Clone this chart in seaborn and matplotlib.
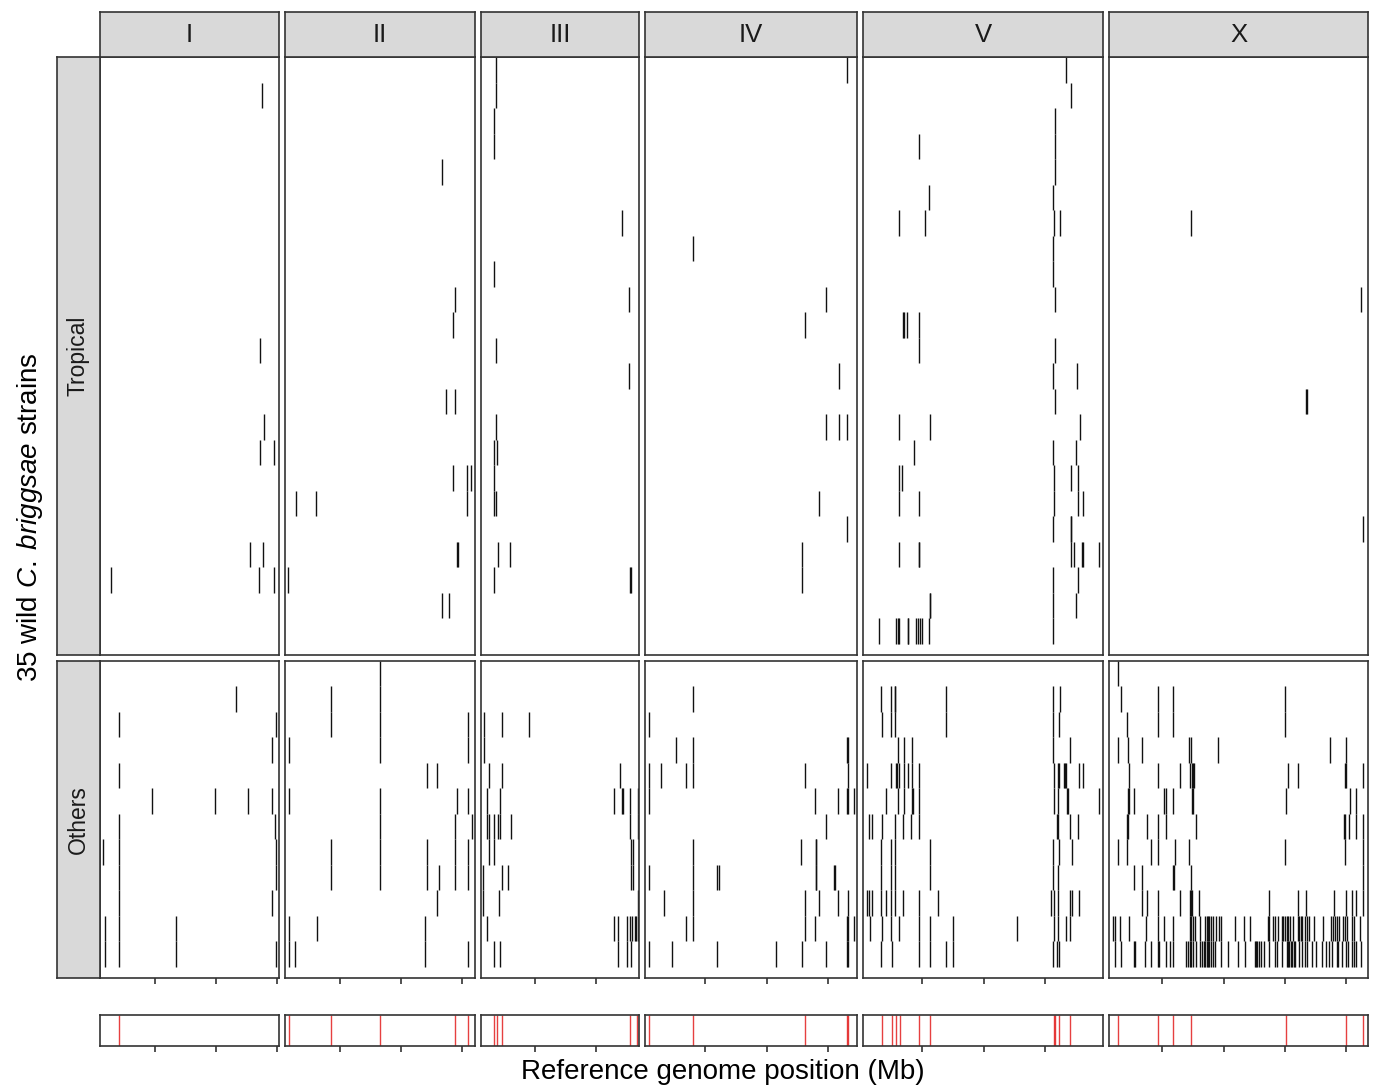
import numpy as np
import pandas as pd
import matplotlib
matplotlib.use("Agg")
import matplotlib.pyplot as plt
import seaborn as sns

# ---------------- data ----------------
chromosomes = ["I", "II", "III", "IV", "V", "X"]
groups = ["Tropical", "Others"]
n_strains = {"Tropical": 23, "Others": 12}
# displayed genome range per chromosome (Mb)
xlims = {"I": (0.53, 15.14), "II": (0.53, 16.04), "III": (0.57, 13.47),
         "IV": (0.08, 17.39), "V": (0.16, 19.76), "X": (0.65, 21.80)}
tick_mb = [5, 10, 15, 20]

# (strain row, [positions in Mb]) ; row 0 = top strain of the group
trop_I = [(1, [13.73]), (11, [13.62]), (14, [13.94]), (15, [13.62, 14.73]),
          (19, [12.78, 13.86]), (20, [1.40, 13.51, 14.73])]
trop_II = [(4, [13.37]), (9, [14.38]), (10, [14.27]), (13, [13.70, 14.41]),
           (16, [14.27, 15.41, 15.71]), (17, [1.40, 3.09, 15.41]),
           (19, [14.55, 14.62]), (20, [0.78]), (21, [13.37, 13.92])]
trop_III = [(0, [1.82]), (1, [1.82]), (2, [1.61]), (3, [1.61]), (6, [12.08]),
            (8, [1.61]), (9, [12.68]), (11, [1.82]), (12, [12.68]), (14, [1.82]),
            (15, [1.61, 1.90]), (16, [1.61]), (17, [1.61, 1.82]),
            (19, [1.96, 2.97]), (20, [1.61, 12.70, 12.78])]
trop_IV = [(0, [16.57]), (7, [4.00]), (9, [14.88]), (10, [13.12]), (12, [15.92]),
           (14, [14.88, 15.92, 16.57]), (17, [14.31]), (18, [16.57]),
           (19, [12.87]), (20, [12.87])]
trop_V = [(0, [16.71]), (1, [17.12]), (2, [15.81]), (3, [4.73, 15.81]), (4, [15.81]),
          (5, [5.58, 15.65]), (6, [3.13, 5.22, 15.76, 16.24]), (7, [15.65]),
          (8, [15.65]), (9, [15.81]), (10, [3.40, 3.53, 3.73, 4.73]),
          (11, [4.73, 15.81]), (12, [15.65, 17.63]), (13, [15.81]),
          (14, [3.13, 5.63, 17.85]), (15, [4.33, 15.65, 17.53]),
          (16, [3.13, 3.37, 15.76, 17.17, 17.69]),
          (17, [3.13, 4.73, 15.76, 17.69, 18.15]), (18, [15.65, 17.12, 17.17]),
          (19, [3.13, 4.70, 4.76, 17.12, 17.37, 18.04, 18.10, 19.43]),
          (20, [15.65, 17.69]), (21, [5.60, 5.66, 15.65, 17.53]),
          (22, [1.47, 2.83, 3.04, 3.13, 3.81, 3.86, 4.47, 4.65, 4.82, 4.98, 5.55, 15.65])]
trop_X = [(6, [7.35]), (9, [21.22]), (13, [16.72, 16.80]), (18, [21.36])]

oth_I = [(1, [11.63]), (2, [2.11, 14.92]), (3, [14.60]), (4, [2.11]),
         (5, [4.80, 9.92, 12.61, 14.60]), (6, [2.11, 14.84]), (7, [0.80, 2.11, 14.92]),
         (8, [2.11, 14.92]), (9, [2.11, 14.60]), (10, [0.94, 2.11, 6.76]),
         (11, [0.94, 2.11, 6.76, 14.92])]
oth_II = [(0, [8.29]), (1, [4.29, 8.29]), (2, [4.29, 8.29, 15.47]),
          (3, [0.86, 8.29, 15.47]), (4, [12.10, 12.94]),
          (5, [0.86, 8.29, 14.57, 15.47]), (6, [8.29, 14.41, 15.80]),
          (7, [4.29, 8.29, 12.10, 14.41, 15.47]),
          (8, [4.29, 8.29, 12.10, 13.08, 14.41, 15.47]), (9, [12.94]),
          (10, [0.86, 3.12, 11.99]), (11, [0.86, 1.35, 11.99, 15.47])]
oth_III = [(2, [0.84, 2.26, 4.46]), (3, [0.84]), (4, [1.22, 2.26, 11.89]),
           (5, [1.06, 2.15, 11.45, 12.08, 12.19, 12.73, 13.36]),
           (6, [1.06, 1.22, 1.61, 1.96, 2.15, 2.99, 12.71, 13.36]),
           (7, [1.22, 1.61, 12.82, 12.98]), (8, [0.73, 2.26, 2.75, 12.82, 12.98]),
           (9, [0.73, 2.02, 13.36]),
           (10, [1.06, 11.45, 11.78, 12.49, 12.76, 12.87, 13.14, 13.22, 13.36]),
           (11, [1.61, 2.10, 11.78, 12.49, 12.82])]
oth_IV = [(1, [4.03]), (2, [0.38]), (3, [2.61, 4.03, 16.56, 16.64]),
          (4, [0.38, 1.39, 3.43, 4.03, 13.12, 16.68]),
          (5, [0.38, 13.96, 15.84, 16.58, 16.66, 17.14]), (6, [14.83]),
          (7, [4.03, 12.84, 14.00, 14.08]),
          (8, [0.38, 4.03, 5.96, 6.12, 14.00, 14.08, 15.47, 15.55]),
          (9, [1.63, 4.03, 13.12, 14.31, 15.86, 16.68]),
          (10, [3.43, 4.03, 13.12, 13.96, 16.56, 16.64, 17.14]),
          (11, [0.38, 2.26, 5.96, 10.75, 12.92, 14.83, 16.58, 16.66])]
oth_V = [(1, [1.63, 2.47, 2.75, 2.80, 6.96, 15.67, 16.22]),
         (2, [1.67, 2.47, 2.80, 6.96, 15.67, 16.14]),
         (3, [3.02, 3.53, 4.14, 15.67, 17.04]),
         (4, [0.47, 2.47, 2.88, 2.96, 3.08, 3.53, 3.84, 4.14, 4.71, 15.73, 16.11,
              16.16, 16.55, 16.65, 16.76, 17.77, 18.15]),
         (5, [2.04, 3.00, 3.53, 4.14, 4.24, 4.71, 15.73, 16.08, 16.79, 16.90, 19.43]),
         (6, [0.65, 0.92, 1.69, 2.80, 3.45, 4.08, 4.71, 15.97, 16.08, 17.09, 17.69]),
         (7, [1.63, 2.47, 2.80, 5.63, 15.67, 16.14, 17.20]),
         (8, [1.63, 2.47, 2.80, 5.63, 15.67, 16.05]),
         (9, [0.49, 0.65, 0.92, 1.63, 2.04, 2.47, 2.80, 3.45, 4.71, 6.29, 15.48,
              15.73, 16.11, 17.09, 17.20, 17.77]),
         (10, [0.71, 1.69, 2.47, 3.10, 4.71, 5.63, 7.49, 12.76, 15.73, 16.08,
               16.71, 17.09]),
         (11, [1.63, 2.55, 4.71, 5.63, 6.94, 7.49, 15.67, 15.97, 16.16])]
oth_X = [(0, [1.36]), (1, [1.61, 4.63, 5.90, 15.02]), (2, [2.12, 4.63, 5.90, 15.02]),
         (3, [1.36, 2.20, 3.32, 7.16, 7.35, 9.55, 18.69, 20.00]),
         (4, [2.26, 4.63, 6.42, 7.29, 7.38, 7.46, 7.57, 15.27, 16.08, 19.90, 19.98, 21.41]),
         (5, [2.18, 2.31, 2.69, 5.12, 5.31, 5.90, 7.42, 7.49, 15.10, 20.35, 20.82]),
         (6, [2.14, 2.22, 3.78, 4.63, 5.31, 7.70, 19.82, 19.90, 20.24, 20.82, 21.36]),
         (7, [1.36, 2.12, 4.10, 4.63, 6.04, 7.16, 15.02, 19.94, 21.36]),
         (8, [2.69, 3.32, 5.90, 5.98, 7.35, 21.41]),
         (9, [3.32, 3.73, 4.63, 6.42, 7.24, 7.35, 7.45, 8.02, 13.71, 16.08, 16.73,
              19.02, 20.00, 20.49, 20.82, 21.36]),
         (10, [0.93, 1.14, 1.55, 2.26, 3.65, 4.63, 5.09, 5.85, 7.24, 7.35, 7.46, 7.65,
               8.03, 8.49, 8.60, 8.71, 8.82, 8.98, 9.09, 9.36, 9.58, 9.77, 10.91,
               11.65, 12.14, 13.58, 13.66, 14.01, 14.20, 14.42, 14.75, 14.88, 15.02,
               15.16, 15.29, 15.43, 15.62, 16.03, 16.11, 16.30, 16.41, 16.65, 16.82,
               16.98, 17.41, 18.07, 18.75, 18.91, 19.10, 19.21, 19.43, 19.70, 19.92,
               20.03, 20.49, 20.60, 21.14]),
         (11, [1.14, 1.61, 2.69, 2.80, 3.59, 4.05, 4.63, 4.73, 5.33, 5.58, 5.90, 6.94,
               7.05, 7.24, 7.35, 7.46, 7.70, 8.05, 8.22, 8.38, 8.49, 8.60, 8.71, 8.82,
               8.98, 9.09, 9.31, 9.82, 10.34, 11.13, 11.76, 12.52, 12.63, 12.76, 12.90,
               13.03, 13.31, 13.71, 14.23, 14.34, 14.75, 15.16, 15.29, 15.37, 15.46,
               15.56, 15.73, 15.84, 16.11, 16.38, 16.65, 16.79, 17.20, 17.52, 18.04,
               18.39, 18.61, 18.83, 19.29, 19.37, 19.65, 20.00, 20.11, 20.49, 20.60,
               20.79, 21.17])]

# highlighted positions (bottom red strip), Mb
hot_I = [2.12]
hot_II = [0.88, 4.28, 8.28, 14.41, 15.44]
hot_III = [1.62, 1.85, 2.28, 12.71, 13.31]
hot_IV = [0.37, 4.03, 13.13, 16.59, 16.69]
hot_V = [1.67, 2.51, 2.81, 3.14, 4.72, 5.63, 15.71, 15.85, 16.18, 17.09]
hot_X = [1.39, 4.65, 5.89, 7.31, 15.07, 20.00, 21.38]

panel_data = {
    ("Tropical", "I"): trop_I, ("Tropical", "II"): trop_II, ("Tropical", "III"): trop_III,
    ("Tropical", "IV"): trop_IV, ("Tropical", "V"): trop_V, ("Tropical", "X"): trop_X,
    ("Others", "I"): oth_I, ("Others", "II"): oth_II, ("Others", "III"): oth_III,
    ("Others", "IV"): oth_IV, ("Others", "V"): oth_V, ("Others", "X"): oth_X,
}
hot_data = {"I": hot_I, "II": hot_II, "III": hot_III, "IV": hot_IV, "V": hot_V, "X": hot_X}

records = []
for (grp, chrom), entries in panel_data.items():
    for r, positions in entries:
        for p in positions:
            records.append((grp, chrom, r, p))
df = pd.DataFrame(records, columns=["group", "chrom", "row", "pos"])

# ---------------- style / layout ----------------
sns.set_theme(style="white")
plt.rcParams["font.family"] = ["Liberation Sans", "DejaVu Sans"]
plt.rcParams["mathtext.fontset"] = "custom"
plt.rcParams["mathtext.rm"] = "Liberation Sans"
plt.rcParams["mathtext.it"] = "Liberation Sans:italic"

W, H = 1378, 1090
PX_PER_MB = 12.25
LEFT, GAP = 100, 6
Y_STRIP = (12, 57)
Y_PANEL = {"Tropical": (57, 655), "Others": (661, 978)}
Y_HOT = (1015, 1046)
X_LSTRIP = (57, 100)
BORDER = "#333333"
STRIP_BG = "#D9D9D9"
PAD_ROWS = 0.45

fig = plt.figure(figsize=(W / 100, H / 100), dpi=100)
fig.patch.set_facecolor("white")


def box(x0, y0, x1, y1):
    return [x0 / W, 1 - y1 / H, (x1 - x0) / W, (y1 - y0) / H]


def frame(ax, lw=1.2):
    for s in ax.spines.values():
        s.set_visible(True)
        s.set_color(BORDER)
        s.set_linewidth(lw)


def strip(rect, label, rotation=0, size=16):
    sax = fig.add_axes(rect)
    sax.set_facecolor(STRIP_BG)
    sax.set_xticks([]); sax.set_yticks([])
    frame(sax)
    sax.text(0.5, 0.5, label, ha="center", va="center", rotation=rotation,
             fontsize=size, color="#1A1A1A", transform=sax.transAxes)
    return sax


x = LEFT
for chrom in chromosomes:
    lo, hi = xlims[chrom]
    w = (hi - lo) * PX_PER_MB
    ticks = [t for t in tick_mb if lo < t <= hi]
    for grp in groups:
        y0, y1 = Y_PANEL[grp]
        ax = fig.add_axes(box(x, y0, x + w, y1))
        sub = df[(df.group == grp) & (df.chrom == chrom)]
        ax.vlines(sub["pos"], sub["row"], sub["row"] + 1, color="#111111", lw=1.0)
        ax.set_xlim(lo, hi)
        ax.set_ylim(n_strains[grp] + PAD_ROWS, 0)
        ax.set_facecolor("white")
        frame(ax)
        ax.set_yticks([])
        if grp == "Others":
            ax.set_xticks(ticks)
            ax.tick_params(axis="x", bottom=True, direction="out", length=4.5,
                           width=1.2, color=BORDER, labelbottom=False)
        else:
            ax.set_xticks([])
        ax.set_xlabel(""); ax.set_ylabel("")
    strip(box(x, Y_STRIP[0], x + w, Y_STRIP[1]), chrom, size=18.5)

    hax = fig.add_axes(box(x, Y_HOT[0], x + w, Y_HOT[1]))
    sns.rugplot(x=hot_data[chrom], ax=hax, height=1, color="#E01010", lw=1.3,
                alpha=0.8, expand_margins=False)
    hax.set_xlim(lo, hi)
    hax.set_ylim(0, 1)
    hax.set_facecolor("white")
    frame(hax)
    hax.set_yticks([])
    hax.set_xticks(ticks)
    hax.tick_params(axis="x", bottom=True, direction="out", length=4.5,
                    width=1.2, color=BORDER, labelbottom=False)
    hax.set_xlabel(""); hax.set_ylabel("")
    x += w + GAP

for grp in groups:
    y0, y1 = Y_PANEL[grp]
    strip(box(X_LSTRIP[0], y0, X_LSTRIP[1], y1), grp, rotation=90, size=16.5)

fig.text(30 / W, 1 - 517 / H, r"35 wild $\mathit{C.\;briggsae}$ strains",
         rotation=90, ha="center", va="center", fontsize=20, color="black")
fig.text(723 / W, 1 - 1072 / H, "Reference genome position (Mb)",
         ha="center", va="center", fontsize=20, color="black")

fig.savefig("out.png", dpi=100, facecolor="white")
